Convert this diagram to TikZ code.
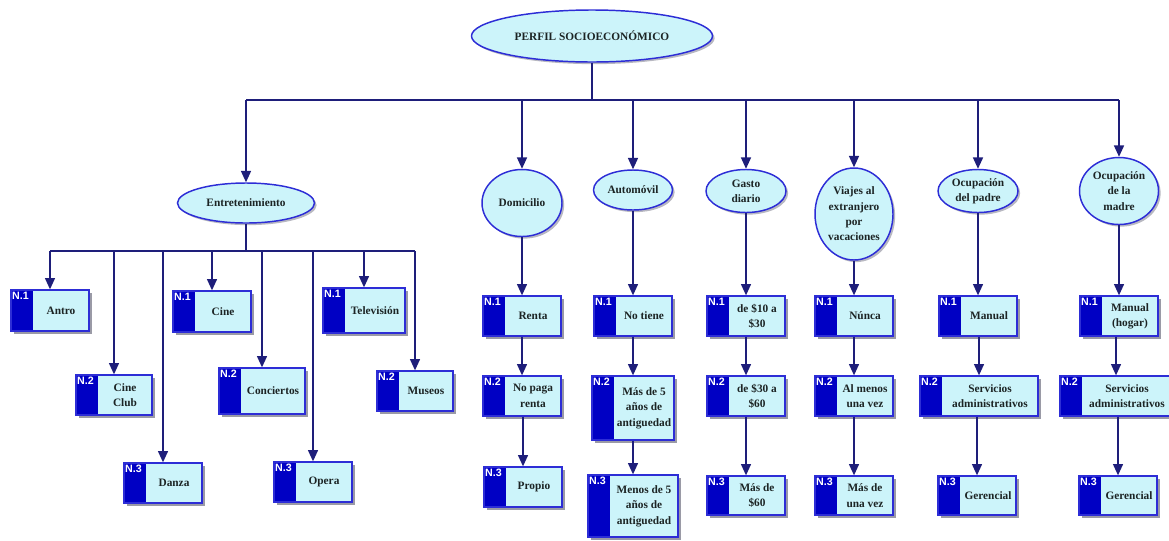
\documentclass[tikz,border=0pt]{standalone}
\usepackage{fontspec}
\setmainfont{Liberation Serif}
\newfontfamily\tagfont{Liberation Sans}
\usetikzlibrary{shapes.geometric,arrows.meta,fit,shadows,calc}

\definecolor{navy}{HTML}{1E1E7A}
\definecolor{dkblue}{HTML}{0000C4}
\definecolor{edgeblue}{HTML}{2D2DD6}
\definecolor{paleblue}{HTML}{CCF4FA}
\definecolor{inkgray}{HTML}{1C2424}
\definecolor{shadegray}{HTML}{9A9AA6}

\tikzset{
  ln/.style={draw=navy, line width=1.1pt},
  arr/.style={ln, -{Triangle[width=7.5pt,length=8.5pt]}},
  esize/.style 2 args={minimum width=#1*0.75pt, minimum height=#2*0.75pt},
  topic/.style={ellipse, draw=edgeblue, line width=1.1pt, fill=paleblue,
    inner sep=0pt, align=center, text=inkgray,
    font=\bfseries\fontsize{8.5}{11.5}\selectfont,
    drop shadow={shadow xshift=1.6pt, shadow yshift=-1.6pt, fill=shadegray, opacity=0.7}},
  lvlbox/.style={rectangle, draw=edgeblue, line width=1pt, fill=paleblue, inner sep=0pt,
    path picture={\fill[dkblue] (path picture bounding box.north west)
      rectangle ([xshift=16.5pt]path picture bounding box.south west);}},
  boxtext/.style={font=\bfseries\fontsize{8.5}{11.5}\selectfont, align=center,
    text=inkgray, inner sep=0pt},
  lvltag/.style={font=\tagfont\bfseries\fontsize{8}{9}\selectfont, text=white,
    inner xsep=1.2pt, inner ysep=2pt, anchor=north west},
}

% level box: name, top-left corner, bottom-right corner, level tag, text
\newcommand{\lvlnode}[5]{%
  \fill[shadegray] ($#2+(2.5,2.5)$) rectangle ($#3+(2.5,2.5)$);
  \node[lvlbox, fit={#2 #3}] (#1) {};
  \node[lvltag] (#1-tag) at (#1.north west) {#4};
  \node[boxtext] (#1-txt) at ([xshift=8.25pt]#1.center) {#5};
}

\begin{document}
\begin{tikzpicture}[x=0.75pt, y=-0.75pt]
\useasboundingbox (0,0) rectangle (1169,540);

% main topic and its categories
\node[topic, esize={241}{52}] (root) at (592,36) {PERFIL SOCIOECON\'OMICO};
\node[topic, esize={137}{40}] (ent) at (246,203) {Entretenimiento};
\node[topic, esize={80}{67}] (dom) at (522,203) {Domicilio};
\node[topic, esize={79}{40}] (auto) at (633,190) {Autom\'ovil};
\node[topic, esize={80}{43}] (gasto) at (746,191) {Gasto\\diario};
\node[topic, esize={78}{92}] (viajes) at (854,214) {Viajes al\\extranjero\\por\\vacaciones};
\node[topic, esize={80}{43}] (padre) at (978,191) {Ocupaci\'on\\del padre};
\node[topic, esize={79}{67}] (madre) at (1119,191) {Ocupaci\'on\\de la\\madre};

\coordinate (bar) at (592,100);
\draw[ln] (root.south) -- (bar);
\draw[ln] (ent.north |- bar) -- (madre.north |- bar);
\foreach \c in {ent,dom,auto,gasto,viajes,padre,madre}
  \draw[arr] (\c.north |- bar) -- (\c.north);

% entertainment options
\lvlnode{antro}{(11,290)}{(89,331)}{N.1}{Antro}
\lvlnode{cineclub}{(76,375)}{(152,415)}{N.2}{Cine\\Club}
\lvlnode{danza}{(124,463)}{(202,503)}{N.3}{Danza}
\lvlnode{cine}{(173,291)}{(251,332)}{N.1}{Cine}
\lvlnode{conciertos}{(219,368)}{(305,414)}{N.2}{Conciertos}
\lvlnode{opera}{(274,462)}{(352,502)}{N.3}{Opera}
\lvlnode{tele}{(323,288)}{(405,333)}{N.1}{Televisi\'on}
\lvlnode{museos}{(377,371)}{(453,411)}{N.2}{Museos}

\coordinate (ebar) at (246,251);
\draw[ln] (ent.south) -- (ebar);
\draw[ln] (antro.north |- ebar) -- (museos.north |- ebar);
\foreach \c in {antro,cineclub,danza,cine,conciertos,opera,tele,museos}
  \draw[arr] (\c.north |- ebar) -- (\c.north);

% housing
\lvlnode{renta}{(483,296)}{(561,336)}{N.1}{Renta}
\lvlnode{nopaga}{(483,376)}{(561,416)}{N.2}{No paga\\renta}
\lvlnode{propio}{(484,467)}{(562,507)}{N.3}{Propio}

% car
\lvlnode{notiene}{(594,296)}{(672,336)}{N.1}{No tiene}
\lvlnode{mas5}{(592,376)}{(674,440)}{N.2}{M\'as de 5\\a\~nos de\\antiguedad}
\lvlnode{menos5}{(588,475)}{(678,537)}{N.3}{Menos de 5\\a\~nos de\\antiguedad}

% daily spending
\lvlnode{g1}{(707,296)}{(785,336)}{N.1}{de \$10 a\\\$30}
\lvlnode{g2}{(707,376)}{(785,416)}{N.2}{de \$30 a\\\$60}
\lvlnode{g3}{(707,476)}{(785,515)}{N.3}{M\'as de\\\$60}

% trips abroad
\lvlnode{v1}{(815,296)}{(893,336)}{N.1}{N\'unca}
\lvlnode{v2}{(815,376)}{(893,416)}{N.2}{Al menos\\una vez}
\lvlnode{v3}{(815,476)}{(893,515)}{N.3}{M\'as de\\una vez}

% father's occupation
\lvlnode{p1}{(939,296)}{(1017,336)}{N.1}{Manual}
\lvlnode{p2}{(920,376)}{(1038,416)}{N.2}{Servicios\\administrativos}
\lvlnode{p3}{(938,476)}{(1016,515)}{N.3}{Gerencial}

% mother's occupation
\lvlnode{m1}{(1080,296)}{(1158,336)}{N.1}{Manual\\(hogar)}
\lvlnode{m2}{(1060,376)}{(1172,416)}{N.2}{Servicios\\administrativos}
\lvlnode{m3}{(1079,476)}{(1157,515)}{N.3}{Gerencial}

% vertical chains, dropped straight onto each box
\foreach \a/\b in {dom/renta,renta/nopaga,nopaga/propio,
                   auto/notiene,notiene/mas5,mas5/menos5,
                   gasto/g1,g1/g2,g2/g3,
                   viajes/v1,v1/v2,v2/v3,
                   padre/p1,p1/p2,p2/p3,
                   madre/m1,m1/m2,m2/m3}
  \draw[arr] (\a.south -| \b.north) -- (\b.north);
\end{tikzpicture}
\end{document}
